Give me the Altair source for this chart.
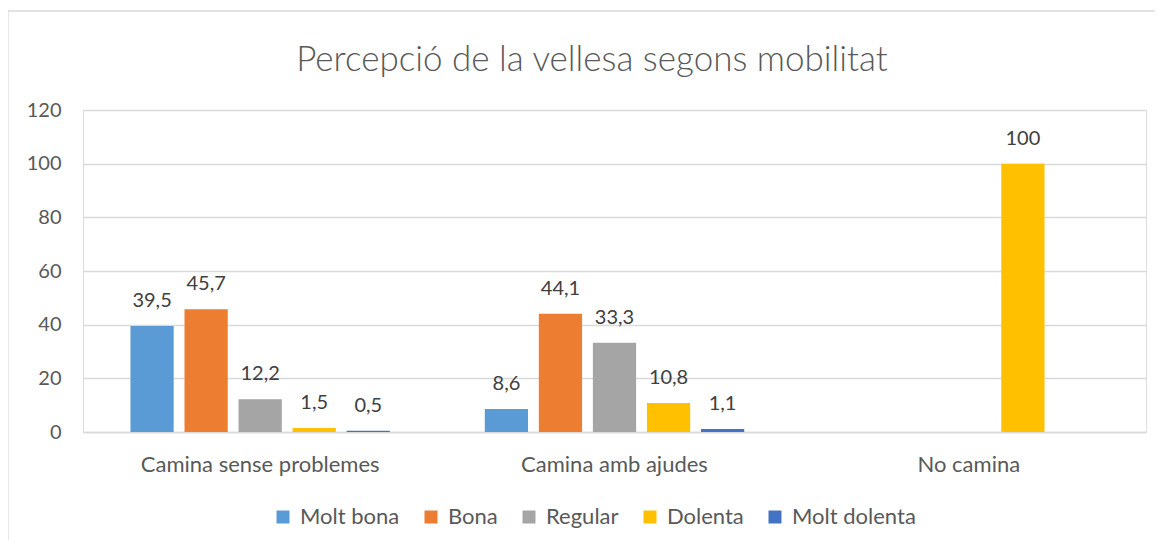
import altair as alt
import pandas as pd

categories = ["Camina sense problemes", "Camina amb ajudes", "No camina"]
series = ["Molt bona", "Bona", "Regular", "Dolenta", "Molt dolenta"]
colors = ["#5B9BD5", "#ED7D31", "#A5A5A5", "#FFC000", "#4472C4"]

molt_bona = [39.5, 8.6, None]
bona = [45.7, 44.1, None]
regular = [12.2, 33.3, None]
dolenta = [1.5, 10.8, 100]
molt_dolenta = [0.5, 1.1, None]

values = [molt_bona, bona, regular, dolenta, molt_dolenta]
title_text = "Percepció de la vellesa segons mobilitat"

rows = []
for s, vals in zip(series, values):
    for c, v in zip(categories, vals):
        if v is not None:
            lab = str(int(v)) if float(v).is_integer() else f"{v:.1f}".replace(".", ",")
            rows.append({"cat": c, "serie": s, "v": v, "lab": lab})
df = pd.DataFrame(rows)

FONT = "Lato"
W, H = 1063, 322
PL, PT = 75, 102

x_enc = alt.X("cat:N", sort=categories, title=None,
              scale=alt.Scale(paddingInner=0, paddingOuter=0),
              axis=alt.Axis(labelAngle=0, ticks=False, tickSize=0, domainColor="#D9D9D9",
                            domainWidth=1.3,
                            labelFontSize=22, labelColor="#595959", labelFont=FONT,
                            labelPadding=39, labelBaseline="alphabetic", labelLimit=0))
xo_enc = alt.XOffset("serie:N", sort=series,
                     scale=alt.Scale(domain=series, paddingInner=0.2, paddingOuter=0.878))
y_enc = alt.Y("v:Q", title=None,
              scale=alt.Scale(domain=[0, 120]),
              axis=alt.Axis(values=[0, 20, 40, 60, 80, 100, 120], ticks=False, tickSize=0,
                            domain=False, gridColor="#D9D9D9", gridWidth=1.3,
                            labelFontSize=20, labelColor="#595959", labelFont=FONT,
                            labelPadding=22))

base = alt.Chart(df)

bars = base.mark_bar().encode(
    x=x_enc, xOffset=xo_enc, y=y_enc,
    color=alt.Color("serie:N", sort=series,
                    scale=alt.Scale(domain=series, range=colors),
                    legend=alt.Legend(title=None, orient="none", legendX=189, legendY=396,
                                      direction="horizontal", columns=5,
                                      symbolType="square", symbolSize=169,
                                      symbolStrokeWidth=0, labelFontSize=22,
                                      labelColor="#595959", labelFont=FONT,
                                      labelOffset=6, columnPadding=20, padding=0)),
)

labels = base.mark_text(baseline="alphabetic", dy=-19, fontSize=20,
                        color="#404040", font=FONT).encode(
    x=x_enc, xOffset=xo_enc, y=y_enc, text="lab:N"
)

one = pd.DataFrame({"t": [title_text]})
title = alt.Chart(one).mark_text(fontSize=35, font=FONT, fontWeight=300, color="#595959",
                                 align="center", baseline="alphabetic").encode(
    x=alt.value(592 - 83), y=alt.value(71 - 110), text="t:N")

frame_left = alt.Chart(one).mark_rule(color="#D9D9D9", strokeWidth=1.3).encode(
    x=alt.value(-PL), y=alt.value(-(PT - 3)), y2=alt.value(H + 200))
frame_top = alt.Chart(one).mark_rule(color="#D9D9D9", strokeWidth=1.3).encode(
    x=alt.value(-PL), x2=alt.value(W + 200), y=alt.value(-(PT - 3)))

chart = alt.layer(frame_left, frame_top, title, bars, labels).properties(
    width=W, height=H,
    autosize=alt.AutoSizeParams(type="none"),
    padding={"left": PL, "top": PT, "right": 1163 - 16 - PL - W, "bottom": 532 - PT - H},
).configure_view(stroke=None).configure(background="white")

chart.save("out.html", embed_options={"renderer": "svg", "actions": False})
